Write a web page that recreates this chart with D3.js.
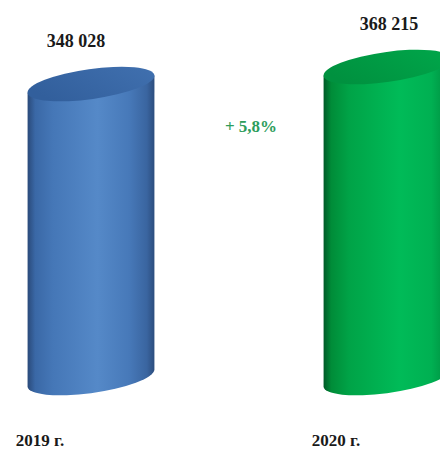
<!DOCTYPE html>
<html><head><meta charset="utf-8">
<script src="https://cdn.jsdelivr.net/npm/d3@7"></script>
<style>html,body{margin:0;padding:0;background:#fff;}svg{display:block;}</style>
</head><body>
<script>
const years = ["2019", "2020"];
const yearLabels = ["2019 г.", "2020 г."];
const values = [348028, 368215];
const valueLabels = ["348 028", "368 215"];
const changeLabel = "+ 5,8%";

const W = 440, H = 451;
const svg = d3.select("body").append("svg").attr("width", W).attr("height", H);
const defs = svg.append("defs");

const x = d3.scalePoint().domain(years).range([91, 387]);
const y = d3.scaleLinear().domain([0, 368215]).range([378, 67]);

const rx = 64, ry = 15, thDeg = -8, th = thDeg * Math.PI / 180;

const palettes = [
  {body: [["0","#2a4a7a"],["0.06","#3a68a6"],["0.2","#4577b7"],["0.55","#5589c8"],["0.8","#4779b9"],["0.94","#3a65a0"],["1","#2c4d7e"]],
   top: [["0","#325f9c"],["1","#4171b0"]]},
  {body: [["0","#005a28"],["0.06","#008c38"],["0.2","#00a347"],["0.6","#00bb58"],["0.85","#00b052"],["1","#008a3e"]],
   top: [["0","#00913f"],["1","#00a84b"]]}
];
palettes.forEach((p, i) => {
  const gb = defs.append("linearGradient").attr("id", "body" + i).attr("x1", 0).attr("x2", 1).attr("y1", 0).attr("y2", 0);
  p.body.forEach(s => gb.append("stop").attr("offset", s[0]).attr("stop-color", s[1]));
  const gt = defs.append("linearGradient").attr("id", "top" + i).attr("x1", 0).attr("x2", 1).attr("y1", 0.3).attr("y2", 0);
  p.top.forEach(s => gt.append("stop").attr("offset", s[0]).attr("stop-color", s[1]));
});

function pt(cx, cy, t) {
  return [cx + rx * Math.cos(t) * Math.cos(th) - ry * Math.sin(t) * Math.sin(th),
          cy + rx * Math.cos(t) * Math.sin(th) + ry * Math.sin(t) * Math.cos(th)];
}
const t0 = Math.atan2(-ry * Math.sin(th), rx * Math.cos(th));
function tangents(cx, cy) {
  const a = pt(cx, cy, t0), b = pt(cx, cy, t0 + Math.PI);
  return a[0] < b[0] ? [a, b] : [b, a];
}

years.forEach((yr, i) => {
  const cx = x(yr), cyTop = y(values[i]), cyBot = y(0);
  const [tl, tr] = tangents(cx, cyTop);
  const [bl, br] = tangents(cx, cyBot);
  const body = `M${tr[0]},${tr[1]} L${br[0]},${br[1]} A${rx},${ry} ${thDeg} 0 1 ${bl[0]},${bl[1]} L${tl[0]},${tl[1]} Z`;
  svg.append("path").attr("d", body).attr("fill", `url(#body${i})`);
  svg.append("ellipse").attr("cx", cx).attr("cy", cyTop).attr("rx", rx).attr("ry", ry)
    .attr("transform", `rotate(${thDeg},${cx},${cyTop})`).attr("fill", `url(#top${i})`);
});

const font = "'Liberation Serif', 'Times New Roman', serif";
const labelShift = [-15, 2];
svg.selectAll("text.val").data(years).join("text").attr("class", "val")
  .attr("x", (d, i) => x(d) + labelShift[i])
  .attr("y", (d, i) => y(values[i]) - 37)
  .attr("text-anchor", "middle").attr("font-family", font).attr("font-weight", "bold")
  .attr("font-size", 18).attr("fill", "#1a1a1a").text((d, i) => valueLabels[i]);

svg.selectAll("text.yr").data(years).join("text").attr("class", "yr")
  .attr("x", d => x(d) - 51).attr("y", 446)
  .attr("text-anchor", "middle").attr("font-family", font).attr("font-weight", "bold")
  .attr("font-size", 17).attr("fill", "#1a1a1a").text((d, i) => yearLabels[i]);

svg.append("text").attr("x", (x(years[0]) + x(years[1])) / 2 + 12).attr("y", 132)
  .attr("text-anchor", "middle").attr("font-family", font).attr("font-weight", "bold")
  .attr("font-size", 17).attr("fill", "#2e9d5c").text(changeLabel);
</script>
</body></html>
